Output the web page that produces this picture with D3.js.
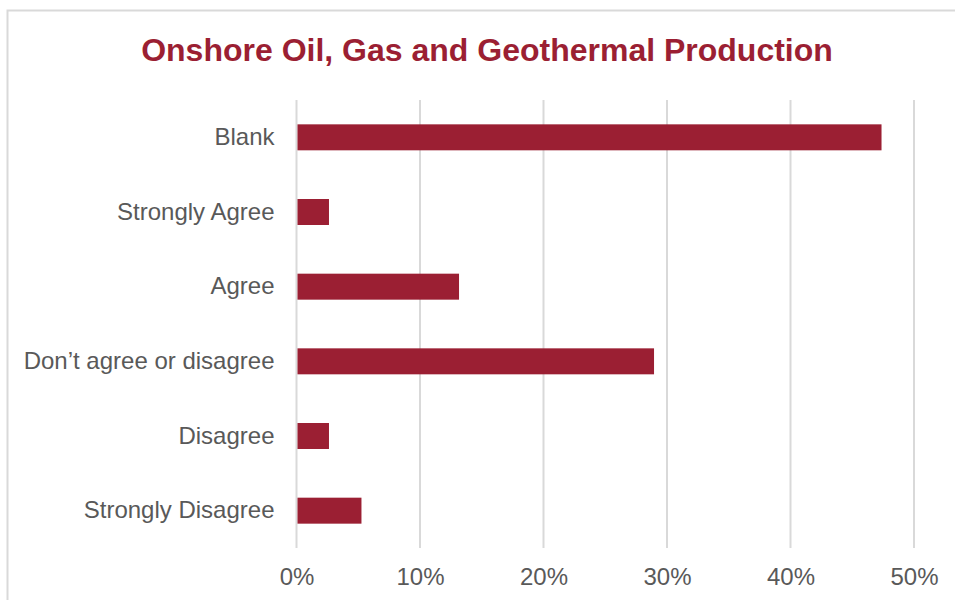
<!DOCTYPE html>
<html>
<head>
<meta charset="utf-8">
<script src="https://cdn.jsdelivr.net/npm/d3@7"></script>
<style>
  html, body { margin: 0; padding: 0; background: #fff; }
  svg { display: block; font-family: "Liberation Sans", Arial, sans-serif; }
</style>
</head>
<body>
<svg id="chart" width="955" height="600"></svg>
<script>
// Survey responses (share of respondents)
const categories = ["Blank", "Strongly Agree", "Agree", "Don\u2019t agree or disagree", "Disagree", "Strongly Disagree"];
const values = [0.4737, 0.0263, 0.1316, 0.2895, 0.0263, 0.0526];
const tickValues = [0, 0.1, 0.2, 0.3, 0.4, 0.5];
const titleText = "Onshore Oil, Gas and Geothermal Production";

const barColor = "#9B1F33";
const textColor = "#595959";
const gridColor = "#D9D9D9";

const svg = d3.select("#chart");

// Chart frame
svg.append("rect")
  .attr("x", 7.5).attr("y", 10.5)
  .attr("width", 1000).attr("height", 700)
  .attr("fill", "#fff")
  .attr("stroke", gridColor)
  .attr("stroke-width", 2);

const margin = { left: 296.5, right: 41, top: 100, bottom: 52 };
const width = 955 - margin.left - margin.right;
const height = 600 - margin.top - margin.bottom;

const x = d3.scaleLinear().domain([0, 0.5]).range([margin.left, margin.left + width]);
const y = d3.scaleBand().domain(categories).range([margin.top, margin.top + height]).paddingInner(0.652).paddingOuter(0.326);

// Title
svg.append("text")
  .attr("x", 487).attr("y", 61)
  .attr("text-anchor", "middle")
  .attr("fill", barColor)
  .attr("font-weight", "bold")
  .attr("font-size", 32)
  .text(titleText);

// Vertical gridlines
svg.append("g")
  .selectAll("line")
  .data(tickValues)
  .join("line")
  .attr("x1", d => x(d)).attr("x2", d => x(d))
  .attr("y1", margin.top).attr("y2", margin.top + height)
  .attr("stroke", gridColor)
  .attr("stroke-width", 2);

// Bars
svg.append("g")
  .selectAll("rect")
  .data(categories)
  .join("rect")
  .attr("x", x(0) + 1)
  .attr("y", d => y(d))
  .attr("width", (d, i) => x(values[i]) - x(0) - 1)
  .attr("height", y.bandwidth())
  .attr("fill", barColor);

// X axis labels
const xAxis = d3.axisBottom(x).tickValues(tickValues).tickFormat(d3.format(".0%")).tickSize(0).tickPadding(0);
const gx = svg.append("g")
  .attr("transform", `translate(0, ${margin.top + height + 20})`)
  .call(xAxis);
gx.select(".domain").remove();
gx.selectAll("text")
  .attr("fill", textColor)
  .attr("font-size", 24)
  .attr("font-family", "Liberation Sans, Arial, sans-serif");

// Y axis labels
const yAxis = d3.axisLeft(y).tickSize(0).tickPadding(22);
const gy = svg.append("g")
  .attr("transform", `translate(${x(0)}, 0)`)
  .call(yAxis);
gy.select(".domain").remove();
gy.selectAll("text")
  .attr("fill", textColor)
  .attr("font-size", 24)
  .attr("font-family", "Liberation Sans, Arial, sans-serif");
</script>
</body>
</html>
